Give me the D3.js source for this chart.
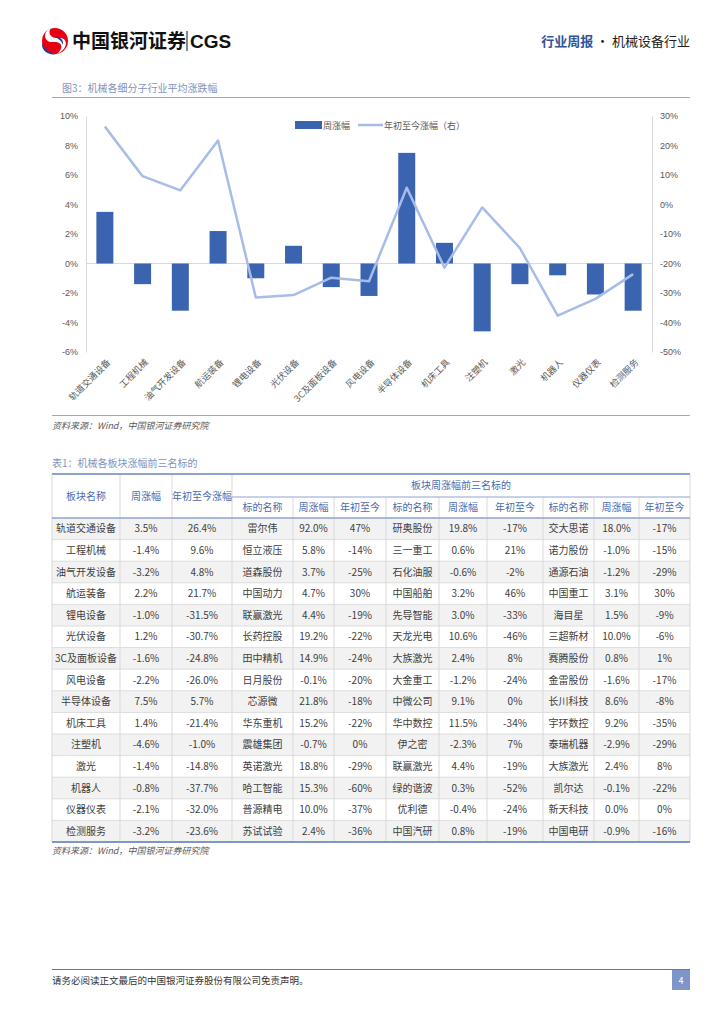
<!DOCTYPE html>
<html>
<head>
<meta charset="utf-8">
<title>机械设备行业周报</title>
<script src="https://d3js.org/d3.v7.min.js"></script>
<style>
  body { margin: 0; background: #fff; }
  svg { display: block; font-family: "Noto Sans CJK SC", "Noto Sans", sans-serif; }
  .axis-label { font-size: 9px; fill: #595959; }
  .cell { font-size: 10px; fill: #404040; }
  .head { font-size: 10px; fill: #4a6bb0; }
  .src { font-size: 9px; fill: #595959; font-style: italic; }
</style>
</head>
<body>
<script>
// chart data
var categories = ["轨道交通设备","工程机械","油气开发设备","航运装备","锂电设备","光伏设备","3C及面板设备","风电设备","半导体设备","机床工具","注塑机","激光","机器人","仪器仪表","检测服务"];
var weekChg = [3.5,-1.4,-3.2,2.2,-1.0,1.2,-1.6,-2.2,7.5,1.4,-4.6,-1.4,-0.8,-2.1,-3.2];
var ytdChg = [26.4,9.6,4.8,21.7,-31.5,-30.7,-24.8,-26.0,5.7,-21.4,-1.0,-14.8,-37.7,-32.0,-23.6];
var leftTicks = [10,8,6,4,2,0,-2,-4,-6];
var rightTicks = [30,20,10,0,-10,-20,-30,-40,-50];

// table data
var headers = ["板块名称","周涨幅","年初至今涨幅"];
var subHeaders = ["标的名称","周涨幅","年初至今","标的名称","周涨幅","年初至今","标的名称","周涨幅","年初至今"];
var topStocks = [
  ["雷尔伟","92.0%","47%","研奥股份","19.8%","-17%","交大思诺","18.0%","-17%"],
  ["恒立液压","5.8%","-14%","三一重工","0.6%","21%","诺力股份","-1.0%","-15%"],
  ["道森股份","3.7%","-25%","石化油服","-0.6%","-2%","通源石油","-1.2%","-29%"],
  ["中国动力","4.7%","30%","中国船舶","3.2%","46%","中国重工","3.1%","30%"],
  ["联赢激光","4.4%","-19%","先导智能","3.0%","-33%","海目星","1.5%","-9%"],
  ["长药控股","19.2%","-22%","天龙光电","10.6%","-46%","三超新材","10.0%","-6%"],
  ["田中精机","14.9%","-24%","大族激光","2.4%","8%","赛腾股份","0.8%","1%"],
  ["日月股份","-0.1%","-20%","大金重工","-1.2%","-24%","金雷股份","-1.6%","-17%"],
  ["芯源微","21.8%","-18%","中微公司","9.1%","0%","长川科技","8.6%","-8%"],
  ["华东重机","15.2%","-22%","华中数控","11.5%","-34%","宇环数控","9.2%","-35%"],
  ["震雄集团","-0.7%","0%","伊之密","-2.3%","7%","泰瑞机器","-2.9%","-29%"],
  ["英诺激光","18.8%","-29%","联赢激光","4.4%","-19%","大族激光","2.4%","8%"],
  ["哈工智能","15.3%","-60%","绿的谐波","0.3%","-52%","凯尔达","-0.1%","-22%"],
  ["普源精电","10.0%","-37%","优利德","-0.4%","-24%","新天科技","0.0%","0%"],
  ["苏试试验","2.4%","-36%","中国汽研","0.8%","-19%","中国电研","-0.9%","-16%"]
];

var W = 724, H = 1024;
var svg = d3.select("body").append("svg").attr("width", W).attr("height", H);

// ---- page header ----
var logo = svg.append("g").attr("transform", "translate(55,41)");
logo.append("circle").attr("r", 13).attr("fill", "#e60012");
logo.append("path").attr("d", "M-4,-13 C-14,-8 -10,2 -2,1 C6,0 10,6 2,13 C14,8 13,-4 4,-3 C-4,-2 -8,-8 -4,-13 Z").attr("fill", "#fff");
logo.append("path").attr("d", "M-13,2 C-14,10 -6,15 2,13 C-6,12 -11,8 -13,2 Z").attr("fill", "#1d3f91");
logo.append("path").attr("d", "M-1,-4 C5,-5 9,-1 8,4 C7,0 3,-3 -1,-4 Z").attr("fill", "#1d3f91");
svg.append("text").attr("x", 72).attr("y", 48).attr("font-size", 19).attr("font-weight", "bold").attr("fill", "#111").text("中国银河证券");
svg.append("line").attr("x1", 187).attr("x2", 187).attr("y1", 31).attr("y2", 51).attr("stroke", "#111").attr("stroke-width", 1);
svg.append("text").attr("x", 190).attr("y", 48).attr("font-size", 19).attr("font-weight", "bold").attr("fill", "#111").attr("font-family", "Liberation Sans, Arial, sans-serif").text("CGS");
var hr = svg.append("text").attr("x", 690).attr("y", 46).attr("text-anchor", "end").attr("font-size", 13);
hr.append("tspan").attr("fill", "#2e5597").attr("font-weight", "bold").text("行业周报");
hr.append("tspan").attr("fill", "#222").text(" · 机械设备行业");

// ---- chart ----
svg.append("text").attr("x", 62).attr("y", 92).attr("font-size", 10).attr("fill", "#7f93bd").text("图3：机械各细分子行业平均涨跌幅");
svg.append("line").attr("x1", 52).attr("x2", 690).attr("y1", 97.5).attr("y2", 97.5).attr("stroke", "#8faadc").attr("stroke-width", 1.2);

var x = d3.scaleBand().domain(categories).range([86, 652]).paddingInner(0.55).paddingOuter(0.275);
var yL = d3.scaleLinear().domain([-6, 10]).range([352, 116]);
var yR = d3.scaleLinear().domain([-50, 30]).range([352, 116]);

var leftAxis = d3.axisLeft(yL).tickValues(leftTicks).tickSize(0).tickPadding(8).tickFormat(function(d){ return d + "%"; });
var gl = svg.append("g").attr("transform", "translate(86,0)").call(leftAxis);
gl.select(".domain").attr("stroke", "#d9d9d9");
gl.selectAll("text").attr("class", "axis-label").attr("font-family", null).attr("font-size", null).attr("fill", null);

var rightAxis = d3.axisRight(yR).tickValues(rightTicks).tickSize(0).tickPadding(8).tickFormat(function(d){ return d + "%"; });
var gr = svg.append("g").attr("transform", "translate(652,0)").call(rightAxis);
gr.select(".domain").attr("stroke", "#d9d9d9");
gr.selectAll("text").attr("class", "axis-label").attr("font-family", null).attr("font-size", null).attr("fill", null);

svg.append("line").attr("x1", 86).attr("x2", 652).attr("y1", yL(0)).attr("y2", yL(0)).attr("stroke", "#d9d9d9");

svg.selectAll("rect.bar").data(weekChg).enter().append("rect").attr("class", "bar")
  .attr("x", function(d, i){ return x(categories[i]); })
  .attr("width", x.bandwidth())
  .attr("y", function(d){ return yL(Math.max(0, d)); })
  .attr("height", function(d){ return Math.abs(yL(d) - yL(0)); })
  .attr("fill", "#3a64b0");

var line = d3.line()
  .x(function(d, i){ return x(categories[i]) + x.bandwidth() / 2; })
  .y(function(d){ return yR(d); });
svg.append("path").datum(ytdChg).attr("d", line).attr("fill", "none").attr("stroke", "#a7bde8").attr("stroke-width", 2.5).attr("stroke-linejoin", "round");

svg.selectAll("text.xlab").data(categories).enter().append("text").attr("class", "axis-label xlab")
  .attr("text-anchor", "end")
  .attr("transform", function(d){ return "translate(" + (x(d) + x.bandwidth() / 2 + 6) + ",363) rotate(-45)"; })
  .text(function(d){ return d; });

// legend
svg.append("rect").attr("x", 295).attr("y", 121).attr("width", 27).attr("height", 8).attr("fill", "#3a64b0");
svg.append("text").attr("class", "axis-label").attr("x", 323).attr("y", 128.5).text("周涨幅");
svg.append("line").attr("x1", 358).attr("x2", 383).attr("y1", 125).attr("y2", 125).attr("stroke", "#a7bde8").attr("stroke-width", 2.5);
svg.append("text").attr("class", "axis-label").attr("x", 384).attr("y", 128.5).text("年初至今涨幅（右）");

svg.append("line").attr("x1", 52).attr("x2", 690).attr("y1", 415.5).attr("y2", 415.5).attr("stroke", "#8faadc").attr("stroke-width", 1.2);
svg.append("text").attr("class", "src").attr("x", 52).attr("y", 429).text("资料来源：Wind，中国银河证券研究院");

// ---- table ----
svg.append("text").attr("x", 52).attr("y", 467).attr("font-size", 10).attr("fill", "#7f93bd").text("表1：机械各板块涨幅前三名标的");

var colEdges = [52, 120, 172, 232, 293, 334, 386, 439, 487, 543, 594, 639, 690];
var tTop = 474, hMid = 497, hBot = 518, rowH = 21.6;
var rows = categories.map(function(c, i){
  return [c, weekChg[i].toFixed(1) + "%", ytdChg[i].toFixed(1) + "%"].concat(topStocks[i]);
});
var tBot = hBot + rowH * rows.length;

var tb = svg.append("g");
tb.selectAll("rect.rowbg").data(rows).enter().append("rect")
  .attr("x", colEdges[0]).attr("width", colEdges[12] - colEdges[0])
  .attr("y", function(d, i){ return hBot + i * rowH; }).attr("height", rowH)
  .attr("fill", function(d, i){ return i % 2 === 0 ? "#f2f2f2" : "#fff"; });

// row separators
tb.selectAll("line.rowsep").data(d3.range(1, rows.length)).enter().append("line")
  .attr("x1", colEdges[0]).attr("x2", colEdges[12])
  .attr("y1", function(i){ return hBot + i * rowH; }).attr("y2", function(i){ return hBot + i * rowH; })
  .attr("stroke", "#dcdcdc").attr("stroke-width", 1);

// vertical lines
tb.selectAll("line.vsep").data(colEdges.slice(1, 12)).enter().append("line")
  .attr("x1", function(d){ return d; }).attr("x2", function(d){ return d; })
  .attr("y1", function(d, i){ return i < 2 || i >= 2 ? (i < 2 ? tTop : hMid) : tTop; })
  .attr("y2", tBot)
  .attr("stroke", "#d9d9d9").attr("stroke-width", 1);
tb.append("line").attr("x1", colEdges[3]).attr("x2", colEdges[3]).attr("y1", tTop).attr("y2", hMid).attr("stroke", "#d9d9d9");
tb.append("line").attr("x1", colEdges[0]).attr("x2", colEdges[0]).attr("y1", tTop).attr("y2", tBot).attr("stroke", "#d9d9d9");
tb.append("line").attr("x1", colEdges[12]).attr("x2", colEdges[12]).attr("y1", tTop).attr("y2", tBot).attr("stroke", "#d9d9d9");

// borders
tb.append("line").attr("x1", colEdges[0]).attr("x2", colEdges[12]).attr("y1", tTop).attr("y2", tTop).attr("stroke", "#8ea3cf").attr("stroke-width", 2);
tb.append("line").attr("x1", colEdges[3]).attr("x2", colEdges[12]).attr("y1", hMid).attr("y2", hMid).attr("stroke", "#8ea3cf").attr("stroke-width", 1);
tb.append("line").attr("x1", colEdges[0]).attr("x2", colEdges[12]).attr("y1", hBot).attr("y2", hBot).attr("stroke", "#8ea3cf").attr("stroke-width", 1.5);
tb.append("line").attr("x1", colEdges[0]).attr("x2", colEdges[12]).attr("y1", tBot).attr("y2", tBot).attr("stroke", "#7f96c8").attr("stroke-width", 2);

// header text
tb.selectAll("text.h1").data(headers).enter().append("text").attr("class", "head")
  .attr("text-anchor", "middle")
  .attr("x", function(d, i){ return (colEdges[i] + colEdges[i + 1]) / 2; })
  .attr("y", (tTop + hBot) / 2 + 3.5)
  .text(function(d){ return d; });
tb.append("text").attr("class", "head").attr("text-anchor", "middle")
  .attr("x", (colEdges[3] + colEdges[12]) / 2).attr("y", (tTop + hMid) / 2 + 3.5)
  .text("板块周涨幅前三名标的");
tb.selectAll("text.h2").data(subHeaders).enter().append("text").attr("class", "head")
  .attr("text-anchor", "middle")
  .attr("x", function(d, i){ return (colEdges[i + 3] + colEdges[i + 4]) / 2; })
  .attr("y", (hMid + hBot) / 2 + 3.5)
  .text(function(d){ return d; });

// body cells
tb.selectAll("g.row").data(rows).enter().append("g")
  .attr("transform", function(d, i){ return "translate(0," + (hBot + i * rowH + rowH / 2 + 3.5) + ")"; })
  .selectAll("text").data(function(d){ return d; }).enter().append("text").attr("class", "cell")
  .attr("text-anchor", "middle")
  .attr("x", function(d, i){ return (colEdges[i] + colEdges[i + 1]) / 2; })
  .text(function(d){ return d; });

svg.append("text").attr("class", "src").attr("x", 52).attr("y", 854).text("资料来源：Wind，中国银河证券研究院");

// ---- footer ----
svg.append("line").attr("x1", 52).attr("x2", 690).attr("y1", 969.5).attr("y2", 969.5).attr("stroke", "#777").attr("stroke-width", 1);
svg.append("text").attr("x", 52).attr("y", 984).attr("font-size", 9.5).attr("fill", "#333").text("请务必阅读正文最后的中国银河证券股份有限公司免责声明。");
svg.append("rect").attr("x", 672).attr("y", 970).attr("width", 18).attr("height", 20).attr("fill", "#7f95c9");
svg.append("text").attr("x", 681).attr("y", 984).attr("text-anchor", "middle").attr("font-size", 9).attr("fill", "#fff").text("4");
</script>
</body>
</html>
